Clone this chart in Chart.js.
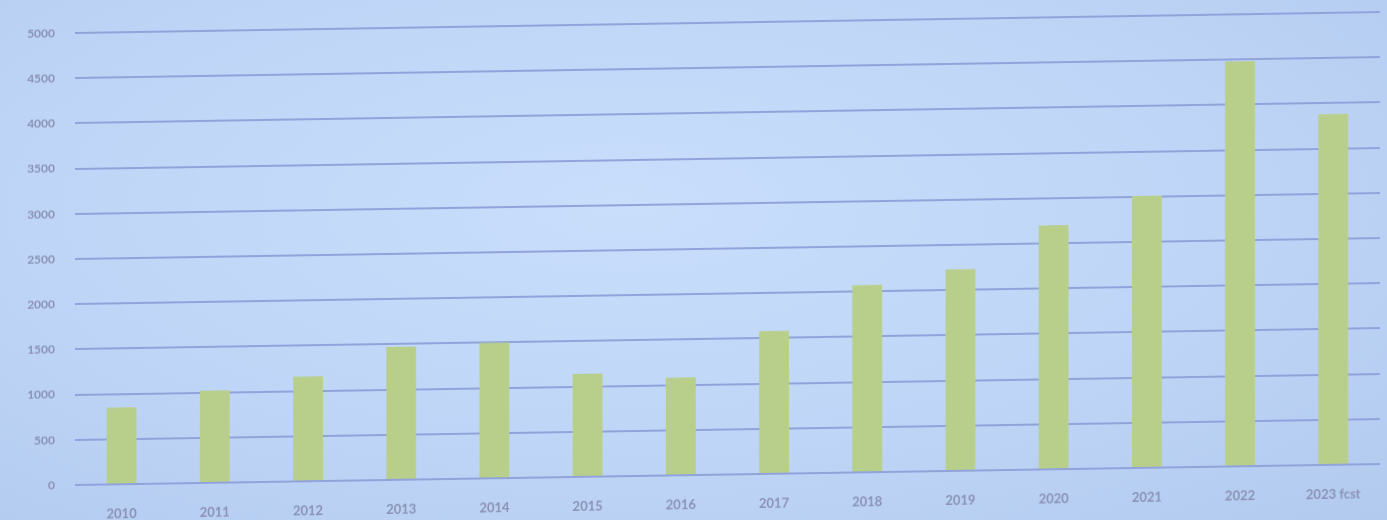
<!DOCTYPE html>
<html>
<head>
<meta charset="utf-8">
<script src="https://cdn.jsdelivr.net/npm/chart.js@4.4.0/dist/chart.umd.min.js"></script>
<style>
    html, body {
        margin: 0;
        padding: 0;
        width: 1387px;
        height: 520px;
        overflow: hidden;
        background: radial-gradient(ellipse at 45% 40%, #c8defb 0%, #bed5f7 55%, #b2caee 100%);
    }
    #wrap {
        position: absolute;
        left: 0;
        top: 0;
        width: 1387px;
        height: 520px;
        transform: skewY(-0.92deg);
        transform-origin: 75px 0;
    }
</style>
</head>
<body>
<div id="wrap"><canvas id="salesChart" width="1387" height="520"></canvas></div>
<script>
    const years = ['2010', '2011', '2012', '2013', '2014', '2015', '2016', '2017', '2018', '2019', '2020', '2021', '2022', '2023 fcst'];
    const values = [850, 1020, 1160, 1470, 1500, 1140, 1080, 1580, 2070, 2230, 2700, 3010, 4480, 3880];
    const yTicks = [0, 500, 1000, 1500, 2000, 2500, 3000, 3500, 4000, 4500, 5000];

    const textColour = '#8a92b6';
    const gridColour = '#91a3da';

    document.addEventListener('DOMContentLoaded', function () {
        const ctx = document.getElementById('salesChart').getContext('2d');
        new Chart(ctx, {
            type: 'bar',
            data: {
                labels: years,
                datasets: [{
                    label: 'Value',
                    data: values,
                    backgroundColor: '#b8cf8b',
                    borderWidth: 0,
                    barPercentage: 0.64,
                    categoryPercentage: 0.5
                }]
            },
            options: {
                responsive: false,
                animation: false,
                layout: {
                    padding: {top: 33, right: 7, left: 0, bottom: 0}
                },
                plugins: {
                    legend: {display: false},
                    tooltip: {enabled: false}
                },
                scales: {
                    x: {
                        grid: {display: false},
                        border: {display: false},
                        ticks: {
                            color: textColour,
                            padding: 14,
                            maxRotation: 0,
                            font: {family: 'Lato', size: 13, weight: 'bold'}
                        },
                        afterFit: function (scale) {
                            scale.height = 35;
                        }
                    },
                    y: {
                        min: 0,
                        max: 5000,
                        afterBuildTicks: function (scale) {
                            scale.ticks = yTicks.map(v => ({value: v}));
                        },
                        grid: {
                            color: gridColour,
                            lineWidth: 2,
                            drawTicks: false
                        },
                        border: {display: false},
                        ticks: {
                            color: textColour,
                            padding: 20,
                            font: {family: 'Lato', size: 12, weight: 'bold'},
                            callback: function (value) {
                                return String(value);
                            }
                        },
                        afterFit: function (scale) {
                            scale.width = 75;
                        }
                    }
                }
            }
        });
    });
</script>
</body>
</html>
